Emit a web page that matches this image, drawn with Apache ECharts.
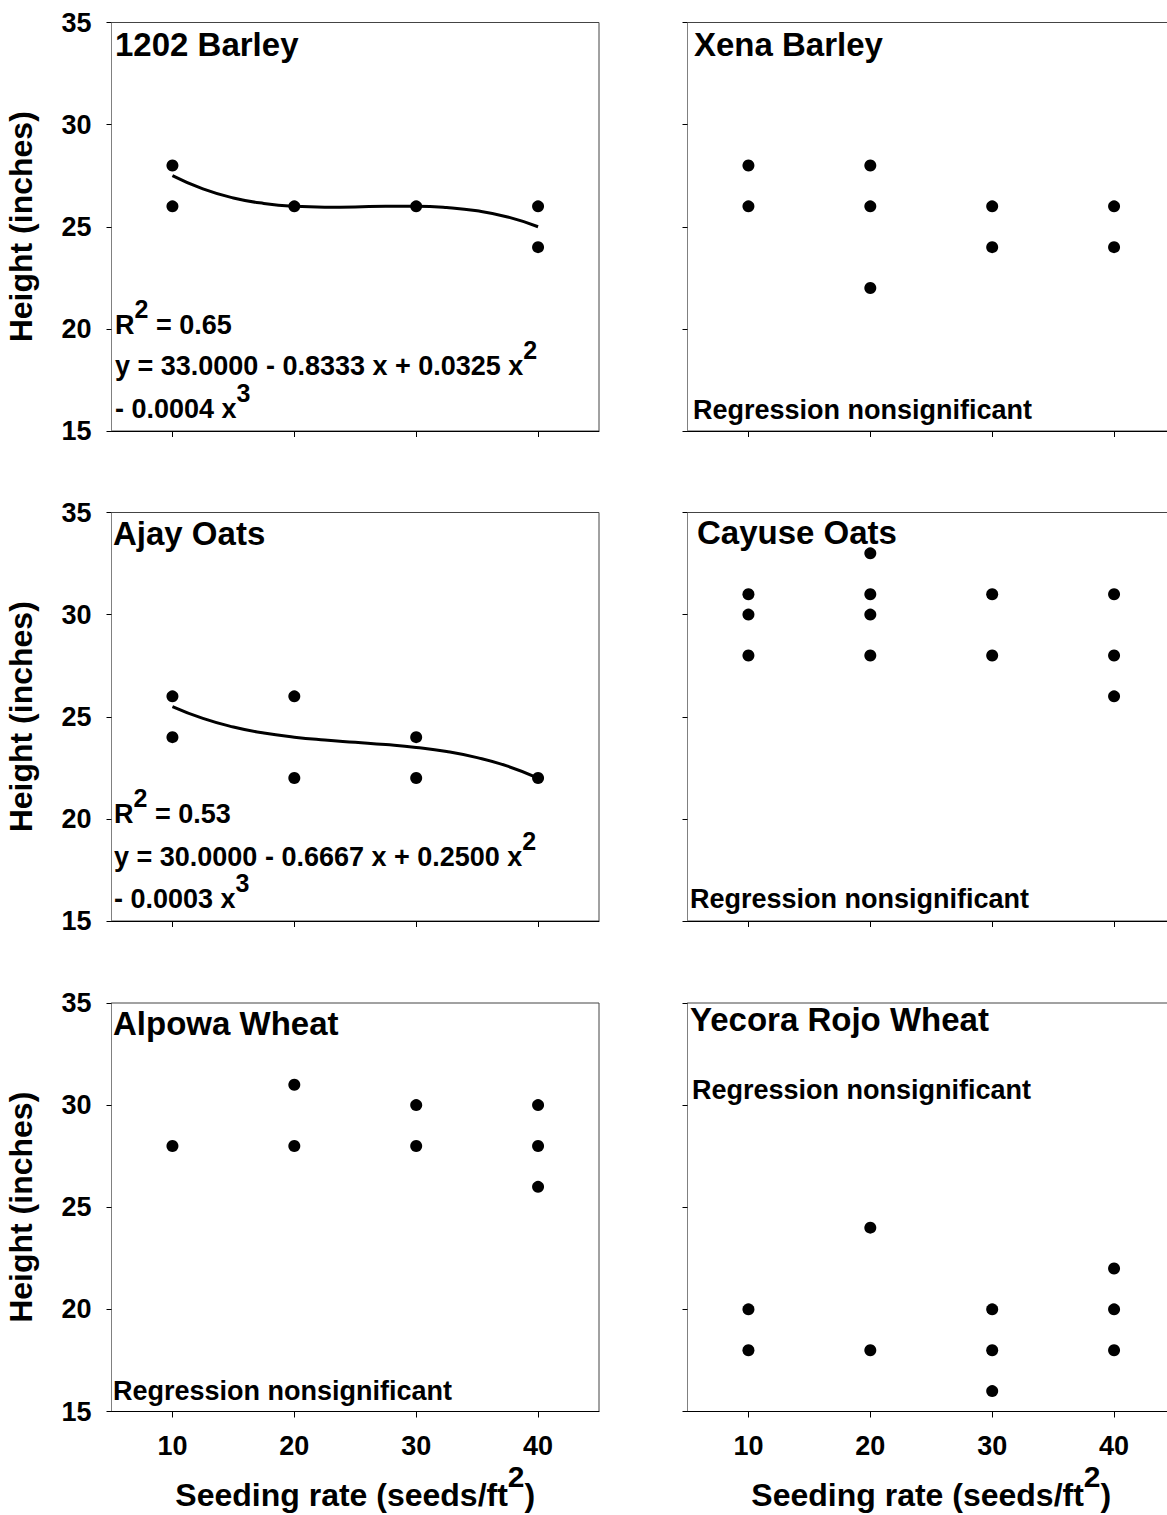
<!DOCTYPE html>
<html>
<head>
<meta charset="utf-8">
<script src="https://cdn.jsdelivr.net/npm/echarts@6/dist/echarts.min.js"></script>
<style>
html,body{margin:0;padding:0;background:#fff;}
#chart{width:1167px;height:1515px;}
</style>
</head>
<body>
<div id="chart"></div>
<script>
// ---------- data ----------
const seedingRates = [10, 20, 30, 40];
const panelTitles = ['1202 Barley', 'Xena Barley', 'Ajay Oats', 'Cayuse Oats', 'Alpowa Wheat', 'Yecora Rojo Wheat'];

const barley1202 = [[10, 28], [10, 26], [20, 26], [30, 26], [40, 26], [40, 24]];
const xenaBarley = [[10, 28], [10, 26], [20, 28], [20, 26], [20, 22], [30, 26], [30, 24], [40, 26], [40, 24]];
const ajayOats = [[10, 26], [10, 24], [20, 26], [20, 22], [30, 24], [30, 22], [40, 22]];
const cayuseOats = [[10, 31], [10, 30], [10, 28], [20, 33], [20, 31], [20, 30], [20, 28], [30, 31], [30, 28], [40, 31], [40, 28], [40, 26]];
const alpowaWheat = [[10, 28], [20, 31], [20, 28], [30, 30], [30, 28], [40, 30], [40, 28], [40, 26]];
const yecoraRojoWheat = [[10, 20], [10, 18], [20, 24], [20, 18], [30, 20], [30, 18], [30, 16], [40, 22], [40, 20], [40, 18]];

// fitted regression curves
const fitRates = [10, 12.5, 15, 17.5, 20, 22.5, 25, 27.5, 30, 32.5, 35, 37.5, 40];
const barley1202Fit = [27.5, 26.85, 26.41, 26.14, 26.0, 25.96, 25.97, 26.0, 26.0, 25.94, 25.78, 25.48, 25.0];
const ajayOatsFit = [25.5, 24.92, 24.5, 24.2, 24.0, 23.86, 23.75, 23.64, 23.5, 23.3, 23.0, 22.58, 22.0];

const barley1202Stats = ['R', '2', '\u00a0= 0.65', 'y = 33.0000 - 0.8333 x + 0.0325 x', '2', '- 0.0004 x', '3'];
const ajayOatsStats = ['R', '2', '\u00a0= 0.53', 'y = 30.0000 - 0.6667 x + 0.2500 x', '2', '- 0.0003 x', '3'];
const nonsigText = 'Regression nonsignificant';
const xAxisTitle = ['Seeding rate (seeds/ft', '2', ')'];
const yAxisTitle = 'Height (inches)';

// ---------- layout ----------
const FONT = "'Liberation Sans', Arial, Helvetica, sans-serif";
const gridLeft = [111.5, 687.5];
const gridTop = [22.5, 512.5, 1003];
const gridW = 487.5, gridH = 408.5;

function richStyles(size, raise) {
  return {
    n: { fontSize: size, fontWeight: 'bold', fontFamily: FONT, fill: '#000', color: '#000', height: size + 4, verticalAlign: 'bottom' },
    s: { fontSize: size - 2, fontWeight: 'bold', fontFamily: FONT, fill: '#000', color: '#000', height: size + 4, padding: [0, 0, raise, 0], verticalAlign: 'bottom' }
  };
}

const panelData = [barley1202, xenaBarley, ajayOats, cayuseOats, alpowaWheat, yecoraRojoWheat];
const grids = [], xAxes = [], yAxes = [], series = [];

for (let i = 0; i < 6; i++) {
  const col = i % 2, row = Math.floor(i / 2);
  const bottomRow = row === 2, leftCol = col === 0;
  grids.push({
    left: gridLeft[col], top: gridTop[row], width: gridW, height: gridH,
    containLabel: false, outerBoundsMode: 'none',
    show: true, borderColor: '#444', borderWidth: 1, backgroundColor: 'transparent'
  });
  xAxes.push({
    type: 'value', gridIndex: i, min: 5, max: 45, position: 'bottom',
    splitLine: { show: false },
    axisLine: { show: true, onZero: false, lineStyle: { color: '#000', width: 1 } },
    axisTick: { show: true, inside: false, length: 6, customValues: seedingRates, lineStyle: { color: '#000', width: 1 } },
    axisLabel: { show: bottomRow, customValues: seedingRates, margin: 21, fontSize: 27, fontWeight: 'bold', fontFamily: FONT, color: '#000' },
    name: bottomRow ? '{n|' + xAxisTitle[0] + '}{s|' + xAxisTitle[1] + '}{n|' + xAxisTitle[2] + '}' : '',
    nameLocation: 'middle', nameGap: 47, nameMoveOverlap: false,
    nameTextStyle: { fontSize: 32, fontWeight: 'bold', fontFamily: FONT, color: '#000', rich: richStyles(32, 18) }
  });
  yAxes.push({
    type: 'value', gridIndex: i, min: 15, max: 35, interval: 5, position: 'left',
    splitLine: { show: false },
    axisLine: { show: true, onZero: false, lineStyle: { color: '#808080', width: 1 } },
    axisTick: { show: true, inside: false, length: 5, lineStyle: { color: '#000', width: 1 } },
    axisLabel: { show: leftCol, margin: 20, fontSize: 27, fontWeight: 'bold', fontFamily: FONT, color: '#000' },
    name: leftCol ? yAxisTitle : '',
    nameLocation: 'middle', nameGap: 75, nameMoveOverlap: false,
    nameTextStyle: { fontSize: 32, fontWeight: 'bold', fontFamily: FONT, color: '#000' }
  });
  series.push({
    type: 'scatter', xAxisIndex: i, yAxisIndex: i, data: panelData[i],
    symbol: 'circle', symbolSize: 12, itemStyle: { color: '#000', opacity: 1 }, silent: true, z: 3
  });
}

series.push({
  type: 'line', xAxisIndex: 0, yAxisIndex: 0,
  data: fitRates.map((x, k) => [x, barley1202Fit[k]]),
  smooth: true, showSymbol: false, symbol: 'none', silent: true,
  lineStyle: { color: '#000', width: 3 }, z: 2
});
series.push({
  type: 'line', xAxisIndex: 2, yAxisIndex: 2,
  data: fitRates.map((x, k) => [x, ajayOatsFit[k]]),
  smooth: true, showSymbol: false, symbol: 'none', silent: true,
  lineStyle: { color: '#000', width: 3 }, z: 2
});

// ---------- annotation text ----------
function plainText(x, y, text, size) {
  return {
    type: 'text', x: x, y: y, silent: true, z: 10,
    style: { text: text, fill: '#000', font: 'bold ' + size + 'px ' + FONT, align: 'left', verticalAlign: 'middle', textAlign: 'left', textVerticalAlign: 'middle' }
  };
}
function supText(x, y, parts, size, raise) {
  let t = '';
  for (let k = 0; k < parts.length; k++) t += (k % 2 === 0 ? '{n|' : '{s|') + parts[k] + '}';
  return {
    type: 'text', x: x, y: y - raise / 2, silent: true, z: 10,
    style: { text: t, fill: '#000', font: 'bold ' + size + 'px ' + FONT, align: 'left', verticalAlign: 'middle', textAlign: 'left', textVerticalAlign: 'middle', rich: richStyles(size, raise) }
  };
}

const titlePos = [[115, 44.5], [694, 44], [113, 533.5], [697, 532], [113, 1023], [690, 1019.5]];
const nonsigPos = [null, [693, 410], null, [690, 899], [113, 1391], [692, 1090]];

const graphics = [];
for (let i = 0; i < 6; i++) {
  graphics.push(plainText(titlePos[i][0], titlePos[i][1], panelTitles[i], 33));
  if (nonsigPos[i]) graphics.push(plainText(nonsigPos[i][0], nonsigPos[i][1], nonsigText, 27));
}
function statsBlock(x, ys, s) {
  graphics.push(supText(x, ys[0], [s[0], s[1], s[2]], 27, 16));
  graphics.push(supText(x, ys[1], [s[3], s[4]], 27, 16));
  graphics.push(supText(x, ys[2], [s[5], s[6]], 27, 16));
}
statsBlock(115, [325, 366, 409], barley1202Stats);
statsBlock(114, [814, 857, 899], ajayOatsStats);

const chart = echarts.init(document.getElementById('chart'), null, { renderer: 'svg' });
chart.setOption({
  animation: false,
  backgroundColor: '#fff',
  grid: grids,
  xAxis: xAxes,
  yAxis: yAxes,
  series: series,
  graphic: { elements: graphics }
});
</script>
</body>
</html>
